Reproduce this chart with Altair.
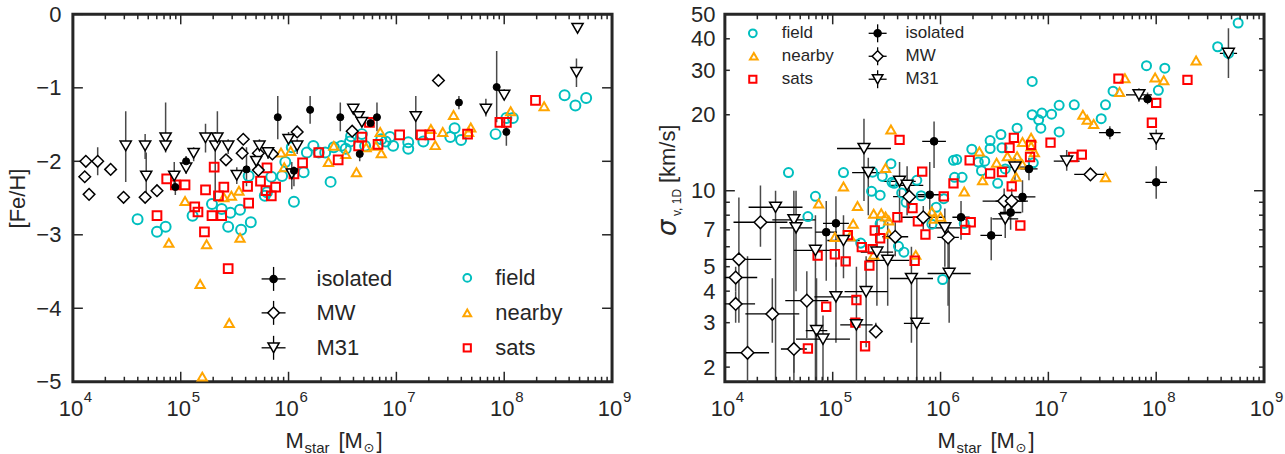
import altair as alt
import pandas as pd
import numpy as np

FONT = "Liberation Sans"
TXT = "#262626"
CYAN = "#00BFBF"
ORANGE = "#FFA500"
RED = "#FF0000"
ERR = "#4a4a4a"
W, H = 540, 368

# ---------------- tick labels ----------------
x_decades = [4, 5, 6, 7, 8, 9]
x_exp_labels = ["4", "5", "6", "7", "8", "9"]
feh_ticks = [0, -1, -2, -3, -4, -5]
sig_labels = [2, 3, 4, 5, 7, 10, 20, 30, 40, 50]

# ---------------- LEFT panel: log10(Mstar), [Fe/H] ----------------
fieldL_m = [4.60,4.78,4.86,5.11,5.29,5.38,5.46,5.55,5.44,5.56,5.65,5.78,5.80,5.84,5.94,5.97,6.03,6.05,6.14,6.17,6.23,6.28,6.34,6.39,6.42,6.49,6.53,6.57,6.58,6.68,6.71,6.86,6.90,6.94,6.97,7.11,7.11,7.25,7.50,7.54,7.60,7.92,8.02,8.08,8.56,8.66,8.76,5.63]
fieldL_v = [-2.79,-2.96,-2.89,-2.74,-2.58,-2.65,-2.70,-2.66,-2.89,-2.93,-2.83,-2.47,-2.42,-2.21,-2.20,-2.01,-1.81,-2.55,-2.15,-1.88,-1.79,-1.88,-1.88,-2.28,-1.81,-1.79,-1.83,-1.73,-1.66,-1.63,-1.79,-1.70,-1.73,-1.67,-1.79,-1.74,-1.83,-1.73,-1.67,-1.55,-1.71,-1.63,-1.41,-1.41,-1.10,-1.24,-1.14,-2.20]

nearL_m = [4.89,5.04,5.18,5.20,5.24,5.40,5.47,5.54,5.45,5.55,5.93,5.96,6.02,6.37,6.42,6.53,6.63,6.72,6.81,6.85,6.86,7.32,7.36,7.43,7.53,7.67,7.69,8.06,8.37]
nearL_v = [-3.11,-2.54,-3.67,-4.93,-3.13,-2.49,-2.47,-2.40,-4.20,-3.04,-1.88,-2.08,-1.86,-2.01,-1.79,-1.90,-2.15,-1.81,-1.79,-1.60,-1.89,-1.56,-1.78,-1.60,-1.37,-1.60,-1.54,-1.32,-1.25]

satsL_m = [4.78,4.87,4.95,5.04,5.13,5.16,5.22,5.23,5.29,5.31,5.35,5.38,5.40,5.44,5.62,5.63,5.74,5.80,5.79,5.84,5.88,6.05,6.13,6.28,6.46,6.65,6.68,6.75,6.83,7.03,7.23,7.31,7.66,7.96,8.02,8.29]
satsL_v = [-2.74,-2.24,-2.32,-2.32,-2.62,-2.69,-2.96,-2.39,-2.74,-2.08,-2.47,-2.74,-2.35,-3.46,-2.34,-2.57,-2.27,-2.09,-2.40,-2.47,-2.35,-2.17,-2.02,-1.88,-1.98,-1.79,-1.67,-1.47,-1.77,-1.64,-1.64,-1.64,-1.63,-1.47,-1.47,-1.17]

isoL_m = [5.05,4.95,5.61,5.90,6.20,6.48,6.82,6.76,6.66,6.05,7.58,7.93,8.02]
isoL_v = [-2.00,-2.35,-2.11,-1.40,-1.30,-1.40,-1.40,-1.48,-1.90,-2.13,-1.20,-0.99,-1.60]
isoL_hi = [-1.93,-2.21,-1.81,-1.11,-1.11,-1.20,-1.20,-1.45,-1.86,-2.07,-1.11,-0.50,-1.52]
isoL_lo = [-2.07,-2.46,-2.34,-1.70,-1.49,-1.59,-1.59,-1.51,-2.00,-2.34,-1.29,-1.47,-1.79]

mwL_m = [4.12,4.23,4.11,4.35,4.15,4.47,4.67,4.78,5.42,5.57,5.58,5.72,5.85,6.08,5.72,7.39,6.59]
mwL_v = [-2.00,-2.00,-2.21,-2.11,-2.45,-2.49,-2.49,-2.40,-1.98,-1.89,-1.70,-1.89,-1.90,-1.60,-2.12,-0.90,-1.59]
mwL_hi = [-2.00,-1.81,-2.21,-2.11,-2.45,-2.49,-2.49,-2.40,-1.98,-1.89,-1.70,-1.89,-1.90,-1.60,-2.12,-0.90,-1.59]
mwL_lo = [-2.00,-2.19,-2.21,-2.11,-2.45,-2.49,-2.49,-2.40,-1.98,-1.89,-1.70,-1.89,-1.90,-1.60,-2.12,-0.90,-1.59]

m31L_m = [4.49,4.67,4.68,4.86,4.86,4.94,5.05,5.12,5.23,5.32,5.34,5.44,5.52,5.70,5.73,5.81,6.00,6.08,6.03,6.60,6.65,6.68,7.18,7.83,8.00,8.67,8.68]
m31L_v = [-1.79,-1.79,-2.20,-1.68,-1.79,-2.20,-2.09,-1.89,-1.68,-1.79,-1.68,-1.79,-2.19,-2.00,-1.79,-1.88,-1.70,-1.79,-2.17,-1.29,-1.39,-1.47,-1.39,-1.29,-1.10,-0.79,-0.19]
m31L_hi = [-1.32,-1.63,-1.88,-1.20,-1.79,-2.01,-1.93,-1.81,-1.49,-1.60,-1.32,-1.70,-2.08,-1.90,-1.70,-1.81,-1.60,-1.70,-2.01,-1.29,-1.39,-1.47,-1.11,-1.15,-1.02,-0.60,-0.19]
m31L_lo = [-2.28,-1.97,-2.45,-1.88,-1.79,-2.38,-2.17,-2.00,-1.88,-2.55,-1.79,-1.90,-2.31,-2.11,-1.90,-1.97,-1.79,-1.90,-2.38,-1.29,-1.39,-1.47,-1.70,-1.39,-1.15,-0.99,-0.19]

# ---------------- RIGHT panel: log10(Mstar), sigma [km/s] ----------------
fieldR_m = [4.59,4.77,4.84,5.10,5.26,5.36,5.37,5.44,5.44,5.46,5.54,5.55,5.57,5.61,5.64,5.66,5.68,5.78,5.82,5.92,5.96,6.03,6.02,6.12,6.15,6.13,6.20,6.22,6.29,6.35,6.38,6.41,6.46,6.46,6.53,6.56,6.57,6.60,6.71,6.85,6.85,6.86,6.91,6.93,6.94,7.03,7.10,7.10,7.24,7.49,7.53,7.60,7.91,8.02,8.08,8.57,8.67,8.76]
fieldR_v = [11.8,7.9,9.5,11.8,6.2,9.95,11.85,9.6,7.4,11.4,12.8,10.8,10.7,6.02,9.8,5.71,9.0,11.0,9.55,7.37,8.6,9.3,4.45,13.2,13.3,11.3,11.3,7.42,14.6,13.0,12.0,13.1,14.7,15.8,10.7,16.7,14.8,12.2,17.7,20.0,27.1,12.9,19.1,17.7,20.3,20.1,21.8,17.1,21.9,19.3,21.9,24.8,31.3,25.0,30.6,37.2,35.0,46.2]

nearR_m = [4.87,5.02,5.10,5.16,5.19,5.23,5.38,5.38,5.45,5.49,5.49,5.52,5.52,5.54,5.77,5.92,5.94,6.00,6.22,6.36,6.39,6.52,6.62,6.70,6.71,6.76,6.76,6.84,6.84,6.87,7.32,7.36,7.42,7.53,7.66,7.71,7.99,8.07,8.37]
nearR_v = [8.9,6.55,10.4,6.6,7.4,8.7,8.1,5.57,8.15,7.9,12.3,7.62,6.76,17.5,5.57,8.27,7.74,7.88,9.93,14.3,11.0,12.9,13.7,11.35,13.7,15.6,12.7,16.2,15.0,14.2,20.0,19.1,18.4,11.3,24.6,27.9,28.1,27.4,32.8]

satsR_m = [4.77,4.86,4.94,5.02,5.12,5.14,5.22,5.21,5.27,5.30,5.34,5.37,5.39,5.44,5.60,5.62,5.74,5.76,5.79,5.83,5.86,6.03,6.12,6.23,6.28,6.27,6.46,6.57,6.64,6.66,6.68,6.74,6.83,6.84,7.02,7.23,7.31,7.65,7.96,8.00,8.29]
satsR_v = [2.37,5.53,3.47,5.6,5.25,6.67,3.69,3.0,5.98,2.42,5.05,5.87,6.96,6.48,7.85,15.9,8.53,5.28,7.57,11.9,6.71,9.5,10.7,7.0,7.5,13.2,11.7,11.85,14.8,10.4,16.2,7.28,13.6,15.2,15.5,13.6,13.9,27.8,18.6,22.3,27.5]

isoR_m = [4.94,5.03,5.90,5.94,6.19,6.47,6.65,6.76,6.82,7.57,7.92,8.00]
isoR_v = [6.85,7.43,9.64,15.7,7.85,6.65,8.2,9.45,12.2,17.0,23.1,10.8]
isoR_xe = [0.10,0.12,0.12,0.11,0.08,0.10,0.10,0.12,0.08,0.10,0.08,0.10]
isoR_lo = [4.4,5.0,7.0,12.3,6.4,5.3,7.0,8.2,11.0,16.0,22.0,9.3]
isoR_hi = [9.1,9.5,13.0,18.8,9.1,7.85,9.5,11.0,13.5,18.0,24.5,12.5]

mwR_m = [4.13,4.10,4.10,4.21,4.33,4.44,4.64,4.76,5.40,5.58,5.71,5.84,6.07,6.59,6.66,7.39]
mwR_v = [5.35,4.53,3.56,2.28,7.5,3.25,2.36,3.67,2.77,6.57,9.47,7.85,6.53,9.1,9.1,11.6]
mwR_xe = [0.30,0.20,0.18,0.20,0.25,0.25,0.12,0.20,0.05,0.12,0.15,0.20,0.10,0.20,0.15,0.15]
mwR_lo = [3.0,4.0,3.0,1.7,6.0,2.5,1.9,2.6,2.6,5.5,8.5,7.0,3.5,8.0,8.0,11.2]
mwR_hi = [9.4,5.0,4.0,5.5,10.5,4.5,3.2,4.8,3.0,7.5,10.5,8.7,7.5,10.2,10.2,12.0]

m31R_m = [4.47,4.64,4.66,4.84,4.85,4.91,5.03,5.10,5.22,5.31,5.29,5.33,5.41,5.51,5.62,5.69,5.73,5.78,6.04,6.08,6.60,6.69,7.17,7.84,8.00,8.67]
m31R_v = [8.6,7.67,7.13,5.8,2.79,2.58,3.8,6.35,2.94,3.98,14.7,11.8,5.71,5.3,10.9,10.5,4.49,2.98,7.13,4.7,7.74,12.4,13.1,24.0,16.1,35.0]
m31R_xe = [0.25,0.20,0.15,0.20,0.10,0.25,0.20,0.15,0.15,0.20,0.25,0.15,0.15,0.20,0.15,0.15,0.20,0.12,0.15,0.20,0.12,0.15,0.12,0.12,0.08,0.08]
m31R_lo = [1.7,1.7,4.0,1.7,1.7,1.7,2.5,4.5,1.7,2.4,9.1,8.0,3.5,3.5,7.5,8.0,2.5,1.7,5.0,3.0,6.5,11.0,12.0,22.5,14.5,28.0]
m31R_hi = [10.0,10.0,10.0,8.0,4.5,3.2,5.2,8.0,5.0,5.5,19.3,13.5,8.0,7.5,13.0,12.5,6.0,4.5,8.5,6.3,9.0,13.5,14.5,25.5,17.5,44.0]

# ---------------- helpers ----------------
XS = alt.Scale(domain=[4, 9], nice=False, zero=False)
one = pd.DataFrame({"a": [0]})


def X(f):
    return alt.X(f"{f}:Q", scale=XS, axis=None)


def pts(df, shape, size, color, sw, Yf, fill=None):
    kw = dict(shape=shape, size=size, strokeWidth=sw, opacity=1)
    if fill is None:
        mk = alt.Chart(df).mark_point(filled=False, color=color, **kw)
    else:
        mk = alt.Chart(df).mark_point(filled=True, fill=fill, stroke=color, fillOpacity=1, **kw)
    return mk.encode(x=X("m"), y=Yf("v"))


def lsym(x, y, shape, size, color, sw, fill=None):
    kw = dict(shape=shape, size=size, strokeWidth=sw, opacity=1)
    if fill is None:
        mk = alt.Chart(one).mark_point(filled=False, color=color, **kw)
    else:
        mk = alt.Chart(one).mark_point(filled=True, fill=fill, stroke=color, fillOpacity=1, **kw)
    return mk.encode(x=alt.value(x), y=alt.value(y))


def lcross(x, y, r):
    h = alt.Chart(one).mark_rule(color="black", strokeWidth=1.3).encode(
        x=alt.value(x - r), x2=alt.value(x + r), y=alt.value(y))
    v = alt.Chart(one).mark_rule(color="black", strokeWidth=1.3).encode(
        x=alt.value(x), y=alt.value(y - r), y2=alt.value(y + r))
    return [h, v]


def ltext(x, y, s, size):
    return alt.Chart(one).mark_text(text=s, align="left", baseline="middle", font=FONT,
                                    fontSize=size, color=TXT).encode(x=alt.value(x), y=alt.value(y))


def xaxis_layers():
    maj = pd.DataFrame({"t": x_decades, "e": x_exp_labels})
    mnr = pd.DataFrame({"t": [d + np.log10(k) for d in x_decades[:-1] for k in range(2, 10)]})
    L = []
    for df, ln in [(maj, 10), (mnr, 5)]:
        L.append(alt.Chart(df).mark_rule(color=TXT, strokeWidth=1.5).encode(
            x=X("t"), y=alt.value(H), y2=alt.value(H - ln)))
        L.append(alt.Chart(df).mark_rule(color=TXT, strokeWidth=1.5).encode(
            x=X("t"), y=alt.value(0), y2=alt.value(ln)))
    L.append(alt.Chart(maj).mark_text(text="10", align="center", baseline="alphabetic", font=FONT,
                                      fontSize=22, color=TXT, dx=-2).encode(x=X("t"), y=alt.value(H + 34)))
    L.append(alt.Chart(maj).mark_text(align="left", baseline="alphabetic", font=FONT,
                                      fontSize=15, color=TXT, dx=11).encode(
        x=X("t"), y=alt.value(H + 20), text="e:N"))
    # x title: M_star [M_sun]
    yb = H + 66
    L.append(alt.Chart(one).mark_text(text="M", align="left", baseline="alphabetic", font=FONT,
                                      fontSize=22, color=TXT).encode(x=alt.value(213), y=alt.value(yb)))
    L.append(alt.Chart(one).mark_text(text="star", align="left", baseline="alphabetic", font=FONT,
                                      fontSize=15, color=TXT).encode(x=alt.value(232), y=alt.value(yb + 5)))
    L.append(alt.Chart(one).mark_text(text="[M", align="left", baseline="alphabetic", font=FONT,
                                      fontSize=22, color=TXT).encode(x=alt.value(266), y=alt.value(yb)))
    L.append(alt.Chart(one).mark_text(text="\u2299", align="left", baseline="alphabetic", font="DejaVu Sans",
                                      fontSize=13, color=TXT).encode(x=alt.value(291), y=alt.value(yb + 4)))
    L.append(alt.Chart(one).mark_text(text="]", align="left", baseline="alphabetic", font=FONT,
                                      fontSize=22, color=TXT).encode(x=alt.value(304), y=alt.value(yb)))
    return L


def vbars(df, Yf, width=1.5):
    return alt.Chart(df).mark_rule(color=ERR, strokeWidth=width, clip=True).encode(
        x=X("m"), y=Yf("hi"), y2=alt.Y2("lo"))


def hbars(df, Yf, width=1.3):
    return alt.Chart(df).mark_rule(color="black", strokeWidth=width, clip=True).encode(
        x=X("xl"), x2=alt.X2("xh"), y=Yf("v"))


# ---------------- LEFT panel ----------------
YS_L = alt.Scale(domain=[-5, 0], nice=False, zero=False)
YAX_L = alt.Axis(values=feh_ticks, format="d", title="[Fe/H]", labelPadding=12, titlePadding=6)


def YL(f):
    return alt.Y(f"{f}:Q", scale=YS_L, axis=YAX_L)


fL = pd.DataFrame({"m": fieldL_m, "v": fieldL_v})
nL = pd.DataFrame({"m": nearL_m, "v": nearL_v})
sL = pd.DataFrame({"m": satsL_m, "v": satsL_v})
iL = pd.DataFrame({"m": isoL_m, "v": isoL_v, "hi": isoL_hi, "lo": isoL_lo})
mwL = pd.DataFrame({"m": mwL_m, "v": mwL_v, "hi": mwL_hi, "lo": mwL_lo})
aL = pd.DataFrame({"m": m31L_m, "v": m31L_v, "hi": m31L_hi, "lo": m31L_lo})

ytL = pd.DataFrame({"t": feh_ticks})
left_layers = [
    alt.Chart(ytL).mark_rule(color=TXT, strokeWidth=1.5).encode(x=alt.value(0), x2=alt.value(10), y=YL("t")),
    alt.Chart(ytL).mark_rule(color=TXT, strokeWidth=1.5).encode(x=alt.value(W - 10), x2=alt.value(W), y=YL("t")),
    vbars(aL, YL), vbars(iL, YL), vbars(mwL[mwL.hi != mwL.lo], YL),
    pts(fL, "circle", 100, CYAN, 2, YL),
    pts(nL, "triangle-up", 85, ORANGE, 2, YL),
    pts(sL, "square", 76, RED, 2, YL),
    pts(mwL, "diamond", 135, "black", 1.5, YL, fill="white"),
    pts(aL, "triangle-down", 125, "black", 1.5, YL, fill="white"),
    pts(iL, "circle", 50, "black", 1, YL, fill="black"),
]
left_layers += xaxis_layers()
# legend (left)
for (yy, shape, size, fill) in [(265, "circle", 50, "black"), (299, "diamond", 135, "white"), (334, "triangle-down", 125, "white")]:
    left_layers += lcross(201, yy, 12)
    left_layers.append(lsym(201, yy, shape, size, "black", 1.5, fill=fill))
left_layers += [ltext(244, 265, "isolated", 22), ltext(244, 299, "MW", 22), ltext(244, 334, "M31", 22)]
left_layers += [lsym(395, 264, "circle", 60, CYAN, 2), lsym(395, 299, "triangle-up", 60, ORANGE, 2),
                lsym(395, 334, "square", 52, RED, 2)]
left_layers += [ltext(423, 264, "field", 22), ltext(423, 299, "nearby", 22), ltext(423, 334, "sats", 22)]

left = alt.layer(*left_layers).properties(width=W, height=H)

# ---------------- RIGHT panel ----------------
YS_R = alt.Scale(type="log", domain=[1.75, 50], nice=False)
YAX_R = alt.Axis(values=sig_labels, format="d", title=None, labelPadding=10)


def YR(f):
    return alt.Y(f"{f}:Q", scale=YS_R, axis=YAX_R)


def witherr(m, v, xe, lo, hi):
    df = pd.DataFrame({"m": m, "v": v, "lo": lo, "hi": hi})
    df["xl"] = df["m"] - np.array(xe)
    df["xh"] = df["m"] + np.array(xe)
    return df


fR = pd.DataFrame({"m": fieldR_m, "v": fieldR_v})
nR = pd.DataFrame({"m": nearR_m, "v": nearR_v})
sR = pd.DataFrame({"m": satsR_m, "v": satsR_v})
iR = witherr(isoR_m, isoR_v, isoR_xe, isoR_lo, isoR_hi)
mwR = witherr(mwR_m, mwR_v, mwR_xe, mwR_lo, mwR_hi)
aR = witherr(m31R_m, m31R_v, m31R_xe, m31R_lo, m31R_hi)

ytR_major = pd.DataFrame({"t": [10]})
ytR_minor = pd.DataFrame({"t": [2, 3, 4, 5, 6, 7, 8, 9, 20, 30, 40]})
right_layers = []
for df, ln in [(ytR_major, 10), (ytR_minor, 5)]:
    right_layers.append(alt.Chart(df).mark_rule(color=TXT, strokeWidth=1.5).encode(
        x=alt.value(0), x2=alt.value(ln), y=YR("t")))
    right_layers.append(alt.Chart(df).mark_rule(color=TXT, strokeWidth=1.5).encode(
        x=alt.value(W - ln), x2=alt.value(W), y=YR("t")))
right_layers += [
    vbars(aR, YR), vbars(mwR, YR), vbars(iR, YR),
    hbars(aR, YR), hbars(mwR, YR), hbars(iR, YR),
    pts(fR, "circle", 82, CYAN, 2, YR),
    pts(nR, "triangle-up", 85, ORANGE, 2, YR),
    pts(sR, "square", 70, RED, 2, YR),
    pts(mwR, "diamond", 160, "black", 1.5, YR, fill="white"),
    pts(aR, "triangle-down", 140, "black", 1.5, YR, fill="white"),
    pts(iR, "circle", 60, "black", 1, YR, fill="black"),
]
right_layers += xaxis_layers()
# y title sigma_{v,1D} [km/s]
right_layers.append(alt.Chart(one).mark_text(text="\u03c3", angle=270, align="left", baseline="alphabetic",
                                             font="DejaVu Sans", fontStyle="italic", fontSize=26, color=TXT)
                    .encode(x=alt.value(-49), y=alt.value(222)))
right_layers.append(alt.Chart(one).mark_text(text="v, 1D", angle=270, align="left", baseline="alphabetic",
                                             font=FONT, fontSize=12, color=TXT)
                    .encode(x=alt.value(-44), y=alt.value(202)))
right_layers.append(alt.Chart(one).mark_text(text="[km/s]", angle=270, align="left", baseline="alphabetic",
                                             font=FONT, fontSize=22, color=TXT)
                    .encode(x=alt.value(-50), y=alt.value(169)))
# legend (right)
right_layers += [lsym(28, 19, "circle", 60, CYAN, 2), lsym(29, 42, "triangle-up", 60, ORANGE, 2),
                 lsym(28, 65, "square", 52, RED, 2)]
right_layers += [ltext(57, 19, "field", 17), ltext(57, 42, "nearby", 17), ltext(57, 65, "sats", 17)]
for (yy, shape, size, fill) in [(19, "circle", 50, "black"), (42, "diamond", 120, "white"), (65, "triangle-down", 110, "white")]:
    right_layers += lcross(153, yy, 9)
    right_layers.append(lsym(153, yy, shape, size, "black", 1.5, fill=fill))
right_layers += [ltext(181, 19, "isolated", 17), ltext(181, 42, "MW", 17), ltext(181, 65, "M31", 17)]

right = alt.layer(*right_layers).properties(width=W, height=H)

chart = alt.hconcat(left, right, spacing=20).properties(
    padding={"left": 5, "top": 1, "right": 0, "bottom": 0}
).configure_view(stroke=TXT, strokeWidth=3).configure_axis(
    grid=False, domain=False, ticks=False, tickSize=0,
    labelFont=FONT, labelFontSize=22, labelColor=TXT,
    titleFont=FONT, titleFontSize=22, titleColor=TXT, titleFontWeight="normal"
)

chart.save("out.html", embed_options={"renderer": "svg", "actions": False})
